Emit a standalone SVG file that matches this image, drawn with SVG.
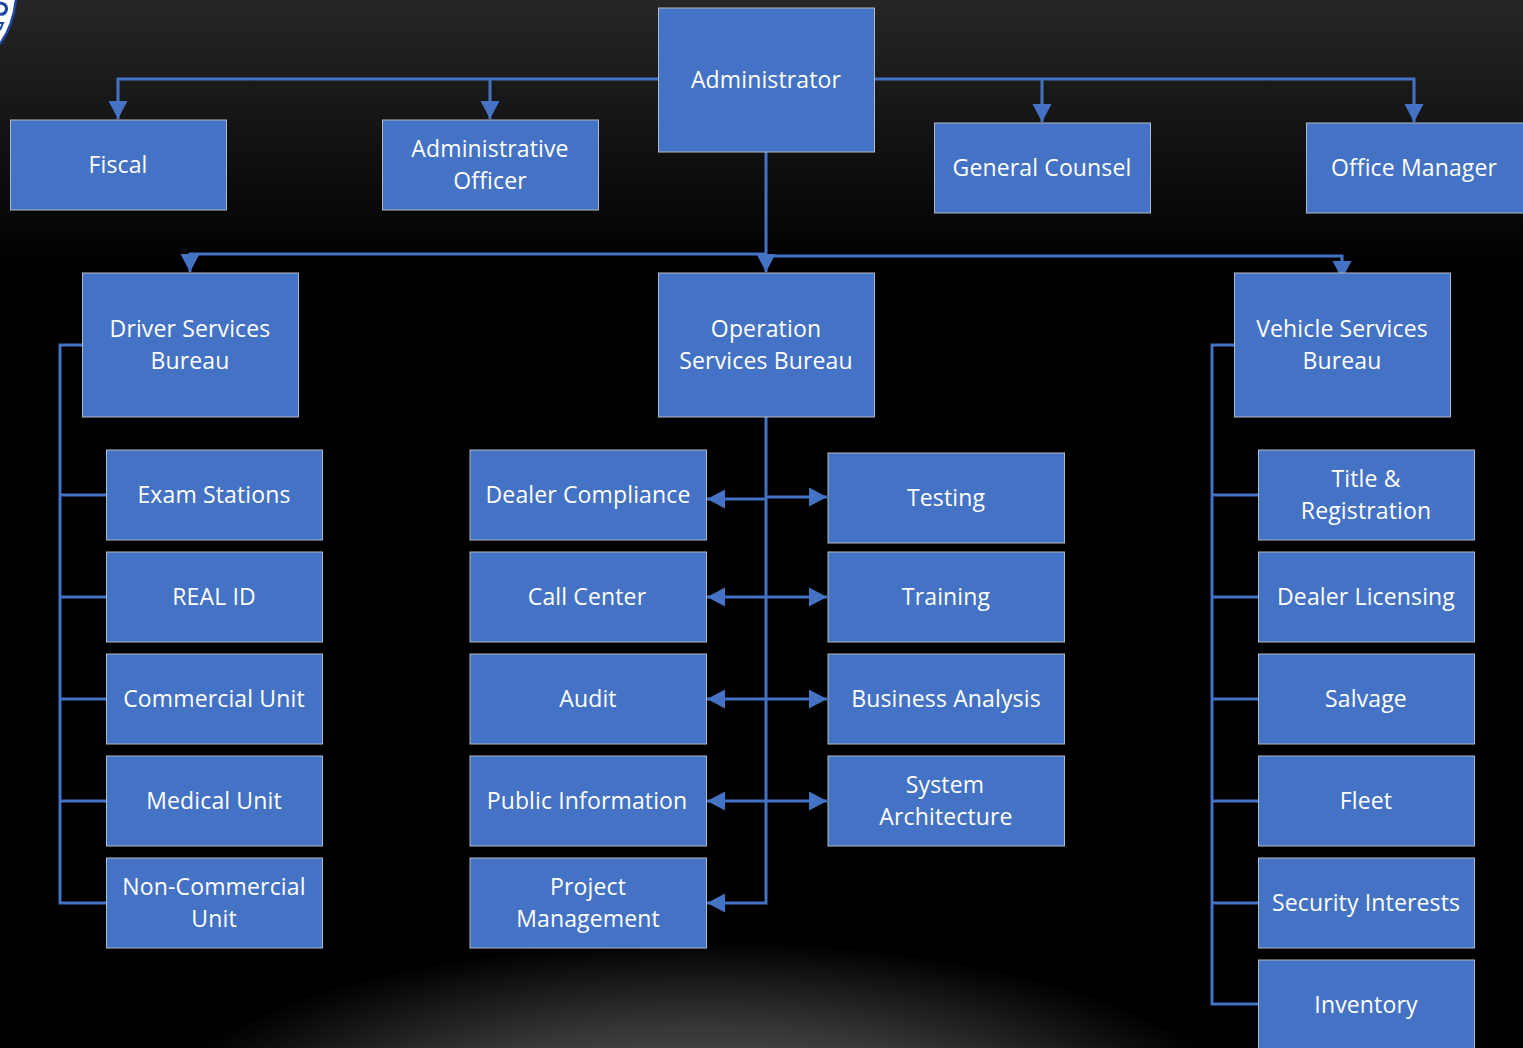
<svg xmlns="http://www.w3.org/2000/svg" width="1523" height="1048" viewBox="0 0 1523 1048">
<style>
.b{fill:#4472c4;stroke:#b4bac4;stroke-width:1}
.c{fill:none;stroke:#4472c4;stroke-width:3}
.t{fill:#fff;font-family:"Open Sans","Noto Sans",sans-serif;font-size:23px;text-anchor:middle;letter-spacing:.14px}
</style>
<defs>
<linearGradient id="top" x1="0" y1="0" x2="0" y2="1"><stop offset="0" stop-color="#262626"/><stop offset="1" stop-color="#000"/></linearGradient>
<radialGradient id="glow" gradientUnits="userSpaceOnUse" cx="700" cy="1130" r="560" gradientTransform="translate(0 746) scale(1 .34)"><stop offset="0" stop-color="#666"/><stop offset=".55" stop-color="#363636"/><stop offset="1" stop-color="#000"/></radialGradient>
<marker id="a" markerUnits="userSpaceOnUse" markerWidth="20" markerHeight="20" refX="18" refY="9.500" orient="auto"><path d="M0 0L18 9.500L0 19Z" fill="#4472c4"/></marker>
</defs>
<rect width="1523" height="1048" fill="#000"/>
<rect width="1523" height="270" fill="url(#top)"/>
<rect y="900" width="1523" height="148" fill="url(#glow)"/>
<path d="M0 0H16Q13 26 0 44Z" fill="#fff"/>
<path d="M16 0Q13 26 0 44" fill="none" stroke="#1d46a0" stroke-width="2.500"/>
<path d="M0 3Q7 4 6.500 9.500Q5 15 0 14" fill="none" stroke="#1d46a0" stroke-width="3"/>
<path d="M0 23H3L0 30" fill="none" stroke="#1d46a0" stroke-width="2"/>
<g id="connectors">
<path class="c" d="M658 79H118V119" marker-end="url(#a)"/>
<path class="c" d="M490 79V119" marker-end="url(#a)"/>
<path class="c" d="M875 79H1414V122" marker-end="url(#a)"/>
<path class="c" d="M1042 79V122" marker-end="url(#a)"/>
<path class="c" d="M766 152V272" marker-end="url(#a)"/>
<path class="c" d="M766 254H190V272" marker-end="url(#a)"/>
<path class="c" d="M766 256H1342V279" marker-end="url(#a)"/>
<path class="c" d="M82 345H60V903H106M60 495H106M60 597H106M60 699H106M60 801H106"/>
<path class="c" d="M1234 345H1212V1004H1258M1212 495H1258M1212 597H1258M1212 699H1258M1212 801H1258M1212 903H1258"/>
<path class="c" d="M766 417V903H707" marker-end="url(#a)"/>
<path class="c" d="M766 499H707" marker-end="url(#a)"/><path class="c" d="M766 497H827" marker-end="url(#a)"/>
<path class="c" d="M766 597H707" marker-end="url(#a)"/><path class="c" d="M766 597H827" marker-end="url(#a)"/>
<path class="c" d="M766 699H707" marker-end="url(#a)"/><path class="c" d="M766 699H827" marker-end="url(#a)"/>
<path class="c" d="M766 801H707" marker-end="url(#a)"/><path class="c" d="M766 801H827" marker-end="url(#a)"/>
</g>
<g id="administrator"><rect class="b" x="658.500" y="8" width="216" height="144"/><text class="t" x="766" y="88">Administrator</text></g>
<g id="fiscal"><rect class="b" x="10.500" y="120" width="216" height="90"/><text class="t" x="118" y="173">Fiscal</text></g>
<g id="admin-officer"><rect class="b" x="382.500" y="120" width="216" height="90"/><text class="t" x="490" y="157">Administrative</text><text class="t" x="490" y="189">Officer</text></g>
<g id="general-counsel"><rect class="b" x="934.500" y="123" width="216" height="90"/><text class="t" x="1042" y="176">General Counsel</text></g>
<g id="office-manager"><rect class="b" x="1306.500" y="123" width="217" height="90"/><text class="t" x="1414" y="176">Office Manager</text></g>
<g id="driver"><rect class="b" x="82.500" y="273" width="216" height="144"/><text class="t" x="190" y="337">Driver Services</text><text class="t" x="190" y="369">Bureau</text></g>
<g id="operation"><rect class="b" x="658.500" y="273" width="216" height="144"/><text class="t" x="766" y="337">Operation</text><text class="t" x="766" y="369">Services Bureau</text></g>
<g id="vehicle"><rect class="b" x="1234.500" y="273" width="216" height="144"/><text class="t" x="1342" y="337">Vehicle Services</text><text class="t" x="1342" y="369">Bureau</text></g>
<g id="exam"><rect class="b" x="106.500" y="450" width="216" height="90"/><text class="t" x="214" y="503">Exam Stations</text></g>
<g id="realid"><rect class="b" x="106.500" y="552" width="216" height="90"/><text class="t" x="214" y="605">REAL ID</text></g>
<g id="commercial"><rect class="b" x="106.500" y="654" width="216" height="90"/><text class="t" x="214" y="707">Commercial Unit</text></g>
<g id="medical"><rect class="b" x="106.500" y="756" width="216" height="90"/><text class="t" x="214" y="809">Medical Unit</text></g>
<g id="noncommercial"><rect class="b" x="106.500" y="858" width="216" height="90"/><text class="t" x="214" y="895">Non-Commercial</text><text class="t" x="214" y="927">Unit</text></g>
<g id="dealer-compliance"><rect class="b" x="470" y="450" width="236.500" height="90"/><text class="t" x="588" y="503">Dealer Compliance</text></g>
<g id="call-center"><rect class="b" x="470" y="552" width="236.500" height="90"/><text class="t" x="587" y="605">Call Center</text></g>
<g id="audit"><rect class="b" x="470" y="654" width="236.500" height="90"/><text class="t" x="588" y="707">Audit</text></g>
<g id="public-info"><rect class="b" x="470" y="756" width="236.500" height="90"/><text class="t" x="587" y="809">Public Information</text></g>
<g id="project"><rect class="b" x="470" y="858" width="236.500" height="90"/><text class="t" x="588" y="895">Project</text><text class="t" x="588" y="927">Management</text></g>
<g id="testing"><rect class="b" x="828" y="453" width="236.500" height="90"/><text class="t" x="946" y="506">Testing</text></g>
<g id="training"><rect class="b" x="828" y="552" width="236.500" height="90"/><text class="t" x="946" y="605">Training</text></g>
<g id="business"><rect class="b" x="828" y="654" width="236.500" height="90"/><text class="t" x="946" y="707">Business Analysis</text></g>
<g id="system"><rect class="b" x="828" y="756" width="236.500" height="90"/><text class="t" x="945" y="793">System</text><text class="t" x="946" y="825">Architecture</text></g>
<g id="title"><rect class="b" x="1258.500" y="450" width="216" height="90"/><text class="t" x="1366" y="487">Title &amp;</text><text class="t" x="1366" y="519">Registration</text></g>
<g id="dealer-licensing"><rect class="b" x="1258.500" y="552" width="216" height="90"/><text class="t" x="1366" y="605">Dealer Licensing</text></g>
<g id="salvage"><rect class="b" x="1258.500" y="654" width="216" height="90"/><text class="t" x="1366" y="707">Salvage</text></g>
<g id="fleet"><rect class="b" x="1258.500" y="756" width="216" height="90"/><text class="t" x="1366" y="809">Fleet</text></g>
<g id="security"><rect class="b" x="1258.500" y="858" width="216" height="90"/><text class="t" x="1366" y="911">Security Interests</text></g>
<g id="inventory"><rect class="b" x="1258.500" y="960" width="216" height="90"/><text class="t" x="1366" y="1013">Inventory</text></g>
</svg>
